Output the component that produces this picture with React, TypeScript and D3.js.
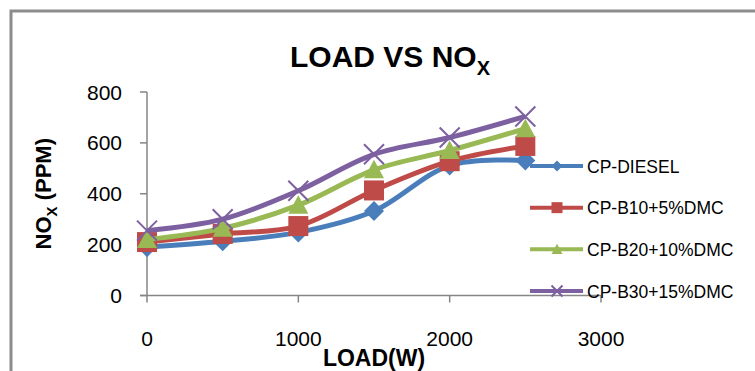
import React from 'react';
import * as d3 from 'd3';

// chart data
const loads = [0, 500, 1000, 1500, 2000, 2500];
const seriesNames = ['CP-DIESEL', 'CP-B10+5%DMC', 'CP-B20+10%DMC', 'CP-B30+15%DMC'];
const diesel = [190, 213, 248, 332, 511, 531];
const b10 = [210, 242, 273, 413, 528, 588];
const b20 = [220, 264, 355, 494, 570, 656];
const b30 = [255, 300, 412, 555, 621, 704];
const xTicks = [0, 1000, 2000, 3000];
const yTicks = [0, 200, 400, 600, 800];

const colors = ['#4A7EBB', '#BE4B48', '#98B954', '#7D60A0'];
const shapes = ['diamond', 'square', 'triangle', 'times'];
const FONT = "'Liberation Sans', Arial, sans-serif";

const W = 755;
const H = 371;

function markerPath(shape: string, s: number) {
  const h = s / 2;
  if (shape === 'diamond') return `M0,${-h}L${h},0L0,${h}L${-h},0Z`;
  if (shape === 'square') return `M${-h},${-h}H${h}V${h}H${-h}Z`;
  if (shape === 'triangle') return `M0,${-h}L${h},${h * 0.85}L${-h},${h * 0.85}Z`;
  return `M${-h},${-h}L${h},${h}M${-h},${h}L${h},${-h}`;
}

function Marker({ shape, color, size }: { shape: string; color: string; size: number }) {
  const isX = shape === 'times';
  return (
    <path
      d={markerPath(shape, size)}
      fill={isX ? 'none' : color}
      stroke={color}
      strokeWidth={isX ? 2 : 0}
    />
  );
}

export default function App() {
  const series = [diesel, b10, b20, b30];
  const x = d3.scaleLinear().domain([0, 3000]).range([147, 601]);
  const y = d3.scaleLinear().domain([0, 800]).range([295.5, 92]);
  const line = d3
    .line<number>()
    .x((_, i) => x(loads[i]))
    .y((d) => y(d))
    .curve(d3.curveCatmullRom);

  const legendY = d3.scalePoint<string>().domain(seriesNames).range([166, 291]);
  const axisColor = '#868686';

  return (
    <svg width={W} height={H} style={{ position: 'absolute', left: 0, top: 0, background: '#fff' }}>
      <rect x={0} y={0} width={W} height={H} fill="#fff" />
      {/* chart frame, cut off at the right and bottom */}
      <path d={`M11,${H + 5}V11H${W + 5}`} fill="none" stroke="#8c8c8c" strokeWidth={3} />

      <text x={390} y={67} textAnchor="middle" fontFamily={FONT} fontWeight="bold" fontSize={30}>
        LOAD VS NO
        <tspan fontSize={20} dy={8}>X</tspan>
      </text>

      {/* axes */}
      <g stroke={axisColor} strokeWidth={1.5} fill="none">
        <line x1={x(0)} x2={x(0)} y1={y(800)} y2={y(0)} />
        <line x1={x(0) - 7} x2={x(3000)} y1={y(0)} y2={y(0)} />
        {yTicks.map((t) => (
          <line key={'yt' + t} x1={x(0) - 7} x2={x(0)} y1={y(t)} y2={y(t)} />
        ))}
        {xTicks.map((t) => (
          <line key={'xt' + t} x1={x(t)} x2={x(t)} y1={y(0)} y2={y(0) + 7} />
        ))}
      </g>
      <g fontFamily={FONT} fontSize={21} fill="#000">
        {yTicks.map((t) => (
          <text key={'yl' + t} x={122} y={y(t) + 7.5} textAnchor="end">
            {t}
          </text>
        ))}
        {xTicks.map((t) => (
          <text key={'xl' + t} x={x(t)} y={346} textAnchor="middle">
            {t}
          </text>
        ))}
      </g>

      <text x={374} y={366} textAnchor="middle" fontFamily={FONT} fontWeight="bold" fontSize={23}>
        LOAD(W)
      </text>
      <text
        transform={`translate(51,${(y(0) + y(800)) / 2}) rotate(-90)`}
        textAnchor="middle"
        fontFamily={FONT}
        fontWeight="bold"
        fontSize={22}
      >
        NO
        <tspan fontSize={15} dy={6}>X</tspan>
        <tspan dy={-6}> (PPM)</tspan>
      </text>

      {/* series */}
      {series.map((vals, si) => (
        <g key={seriesNames[si]}>
          <path d={line(vals) || ''} fill="none" stroke={colors[si]} strokeWidth={5} strokeLinejoin="round" />
          {vals.map((v, i) => (
            <g key={i} transform={`translate(${x(loads[i])},${y(v)})`}>
              <Marker shape={shapes[si]} color={colors[si]} size={20} />
            </g>
          ))}
        </g>
      ))}

      {/* legend */}
      {seriesNames.map((name, si) => {
        const ly = legendY(name) as number;
        return (
          <g key={'lg' + name}>
            <line x1={530} x2={583} y1={ly} y2={ly} stroke={colors[si]} strokeWidth={4} />
            <g transform={`translate(557,${ly})`}>
              <Marker shape={shapes[si]} color={colors[si]} size={11} />
            </g>
            <text x={587} y={ly + 6.5} fontFamily={FONT} fontSize={17.5} fill="#000">
              {name}
            </text>
          </g>
        );
      })}
    </svg>
  );
}
